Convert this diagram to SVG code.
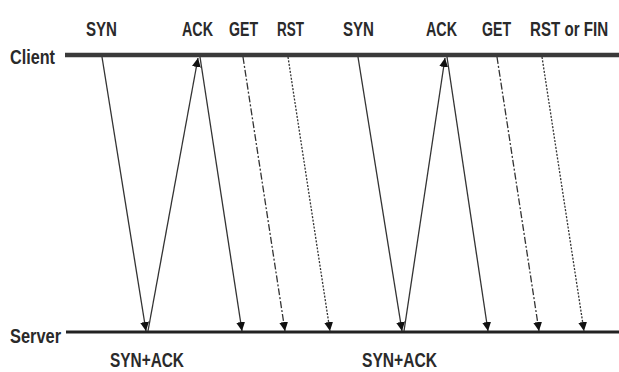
<svg xmlns="http://www.w3.org/2000/svg" width="619" height="372" viewBox="0 0 619 372">
<style>
text{font-family:"Liberation Sans",Arial,sans-serif;font-size:21px;font-weight:bold;fill:#2a2a2a}
.m{stroke:#333;stroke-width:1.3;fill:none}
.dd{stroke-dasharray:7,2,2,2}
.dt{stroke-dasharray:2,1.5}
</style>
<defs>
<marker id="a" viewBox="0 0 10 10" refX="10" refY="5" markerWidth="9" markerHeight="9" markerUnits="userSpaceOnUse" orient="auto">
<path d="M0,0L10,5L0,10z" fill="#111"/>
</marker>
</defs>
<rect width="619" height="372" fill="#fff"/>
<g id="client">
<line x1="65" y1="55" x2="619" y2="55" stroke="#3a3a3a" stroke-width="4.5"/>
<text x="10" y="64" textLength="45" lengthAdjust="spacingAndGlyphs">Client</text>
</g>
<g id="server">
<line x1="66" y1="332" x2="619" y2="332" stroke="#222" stroke-width="3"/>
<text x="10" y="343" textLength="51" lengthAdjust="spacingAndGlyphs">Server</text>
</g>
<g id="labels">
<text x="86" y="36" textLength="31" lengthAdjust="spacingAndGlyphs">SYN</text>
<text x="182" y="36" textLength="31" lengthAdjust="spacingAndGlyphs">ACK</text>
<text x="229" y="36" textLength="29" lengthAdjust="spacingAndGlyphs">GET</text>
<text x="277" y="36" textLength="27" lengthAdjust="spacingAndGlyphs">RST</text>
<text x="343" y="36" textLength="31" lengthAdjust="spacingAndGlyphs">SYN</text>
<text x="426" y="36" textLength="31" lengthAdjust="spacingAndGlyphs">ACK</text>
<text x="482" y="36" textLength="29" lengthAdjust="spacingAndGlyphs">GET</text>
<text transform="translate(530,36) scale(0.72,1)" x="0" y="0">RST or FIN</text>
<text x="110" y="367" textLength="74" lengthAdjust="spacingAndGlyphs">SYN+ACK</text>
<text x="362" y="367" textLength="75" lengthAdjust="spacingAndGlyphs">SYN+ACK</text>
</g>
<g id="connectors">
<line class="m" x1="102" y1="57" x2="146" y2="331" marker-end="url(#a)"/>
<line class="m" x1="148" y1="331" x2="198" y2="58" marker-end="url(#a)"/>
<line class="m" x1="200" y1="57" x2="242" y2="331" marker-end="url(#a)"/>
<line class="m dd" x1="243" y1="57" x2="285" y2="331" marker-end="url(#a)"/>
<line class="m dt" x1="288" y1="57" x2="330" y2="331" marker-end="url(#a)"/>
<line class="m" x1="358" y1="57" x2="402" y2="331" marker-end="url(#a)"/>
<line class="m" x1="404" y1="331" x2="445" y2="58" marker-end="url(#a)"/>
<line class="m" x1="447" y1="57" x2="488" y2="331" marker-end="url(#a)"/>
<line class="m dd" x1="497" y1="57" x2="539" y2="331" marker-end="url(#a)"/>
<line class="m dt" x1="542" y1="57" x2="584" y2="331" marker-end="url(#a)"/>
</g>
</svg>
